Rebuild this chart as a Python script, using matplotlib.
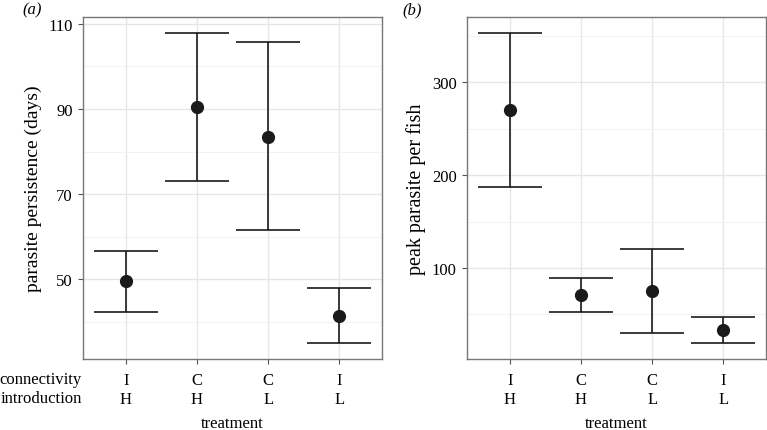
import matplotlib
matplotlib.use("Agg")
import matplotlib.pyplot as plt

# treatment levels
connectivity = ["I", "C", "C", "I"]
introduction = ["H", "H", "L", "L"]

# panel (a): parasite persistence (days)
persist_mean = [49.6, 90.4, 83.4, 41.5]
persist_low = [42.4, 73.2, 61.6, 35.0]
persist_high = [56.7, 107.9, 105.7, 48.0]
persist_ticks = [50, 70, 90, 110]

# panel (b): peak parasite per fish
peak_mean = [270.3, 70.6, 74.9, 33.5]
peak_low = [187.0, 53.1, 30.3, 18.8]
peak_high = [353.6, 88.8, 120.0, 47.4]
peak_ticks = [100, 200, 300]

plt.rcParams['font.family'] = ['Liberation Serif', 'DejaVu Serif']
plt.rcParams['font.size'] = 12


def draw_panel(ax, mean, low, high, ylabel, ticks, ylabel_size):
    x = list(range(1, len(mean) + 1))
    ax.vlines(x, low, high, color="#1a1a1a", lw=1.2, zorder=3)
    ax.hlines(low, [i - 0.45 for i in x], [i + 0.45 for i in x], color="#1a1a1a", lw=1.2, zorder=3)
    ax.hlines(high, [i - 0.45 for i in x], [i + 0.45 for i in x], color="#1a1a1a", lw=1.2, zorder=3)
    ax.plot(x, mean, "o", color="#1a1a1a", ms=8.5, zorder=4)

    ax.set_xticks(x)
    ax.set_xticklabels([c + "\n" + i for c, i in zip(connectivity, introduction)], linespacing=1.2)
    step = ticks[1] - ticks[0]
    ax.set_yticks(ticks)
    minor = [t - step / 2 for t in ticks] + [ticks[-1] + step / 2]
    ax.set_yticks(minor, minor=True)

    # limits after the ticks, so the tick lists do not widen them
    lo, hi = min(low), max(high)
    pad = (hi - lo) * 0.05
    ax.set_ylim(lo - pad, hi + pad)
    ax.set_xlim(0.4, len(mean) + 0.6)

    ax.grid(which="major", color="#e6e6e6", lw=1.0, zorder=0)
    ax.grid(which="minor", axis="y", color="#f0f0f0", lw=0.6, zorder=0)
    ax.set_axisbelow(True)
    ax.tick_params(which="major", length=3.5, width=0.8, color="#555555", labelsize=12)
    ax.tick_params(axis="x", which="major", pad=6)
    ax.tick_params(axis="y", which="major", pad=4)
    ax.tick_params(which="minor", length=0)
    for s in ax.spines.values():
        s.set_color("#777777")
        s.set_linewidth(1.0)
    ax.set_ylabel(ylabel, fontsize=ylabel_size)
    ax.yaxis.set_label_coords(-0.137, 0.5)
    ax.set_xlabel("treatment", fontsize=12, labelpad=6)


fig = plt.figure(figsize=(7.67, 4.31), dpi=100)
ax1 = fig.add_axes([83 / 767, 71 / 431, 299 / 767, 342 / 431])
ax2 = fig.add_axes([467 / 767, 71 / 431, 299 / 767, 342 / 431])

draw_panel(ax1, persist_mean, persist_low, persist_high,
           "parasite persistence (days)", persist_ticks, 14)
draw_panel(ax2, peak_mean, peak_low, peak_high,
           "peak parasite per fish", peak_ticks, 14.5)

# row names for the two treatment factors
fig.text(82 / 767, 1 - 380 / 431, "connectivity", ha="right", va="center", fontsize=12)
fig.text(82 / 767, 1 - 399 / 431, "introduction", ha="right", va="center", fontsize=12)

fig.text(22 / 767, 1 - 10 / 431, "(a)", style="italic", va="center", fontsize=12)
fig.text(402 / 767, 1 - 10 / 431, "(b)", style="italic", va="center", fontsize=12)

fig.savefig("out.png", dpi=100)
